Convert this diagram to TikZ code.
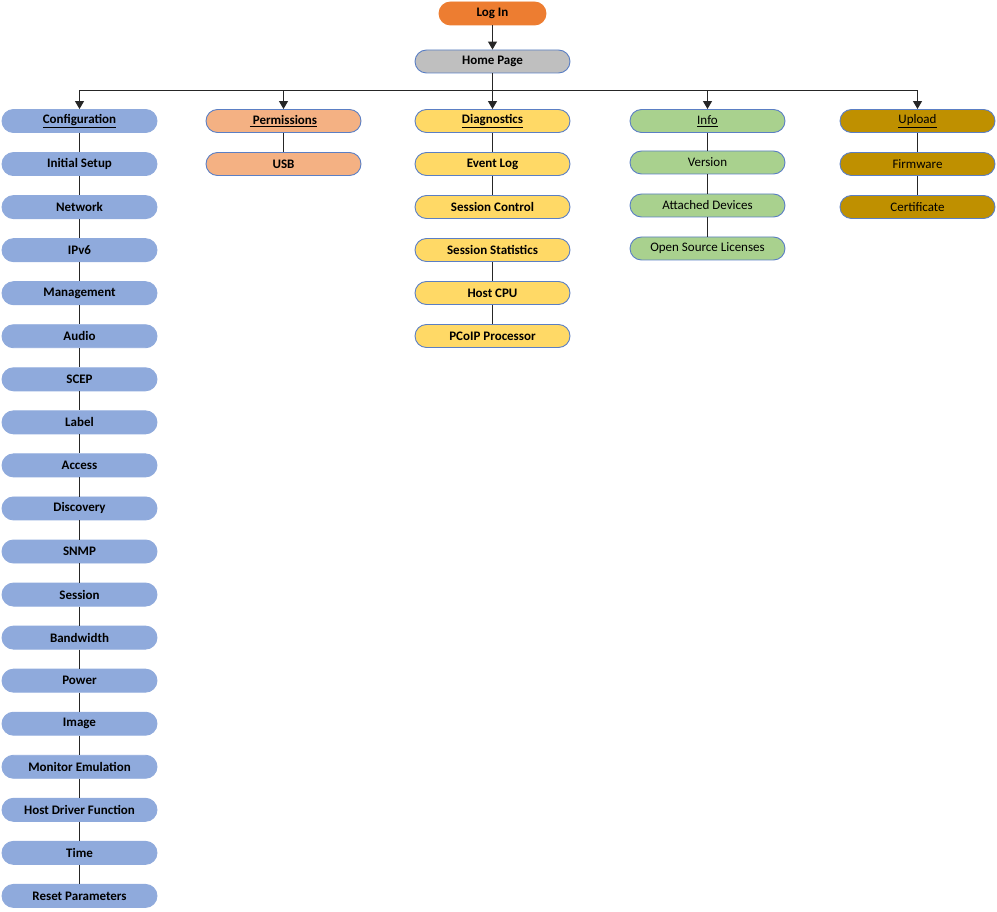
\documentclass[tikz,border=0pt]{standalone}
\usepackage{fontspec}
\setmainfont{Carlito}
\usetikzlibrary{arrows.meta}
\definecolor{cLog}{HTML}{ED7D31}
\definecolor{cHome}{HTML}{BFBFBF}
\definecolor{cConf}{HTML}{8FAADC}
\definecolor{cPerm}{HTML}{F4B183}
\definecolor{cDiag}{HTML}{FFD966}
\definecolor{cInfo}{HTML}{A9D18E}
\definecolor{cUp}{HTML}{BF9000}
\definecolor{cBord}{HTML}{5B7FC4}
\definecolor{cLine}{HTML}{262626}
\tikzset{
  box/.style={rounded corners=11.5pt, minimum width=155pt, minimum height=23pt,
    inner sep=0pt, draw=cBord, line width=0.9pt, font=\fontsize{13}{15}\selectfont\bfseries, text=black},
  boxn/.style={box, font=\fontsize{13}{15}\selectfont},
  link/.style={draw=cLine, line width=1pt},
  arr/.style={link, -{Triangle[length=8pt,width=9pt]}},
}
\begin{document}
\begin{tikzpicture}[x=1pt,y=-1pt]
\useasboundingbox (0,0) rectangle (997,912);
% top
\node[box, fill=cLog, draw=cLog, minimum width=107pt] (login) at (492.5,13.5) {Log In};
\node[box, fill=cHome] (home) at (492.5,61.5) {Home Page};
% column heads
\node[box, fill=cConf, draw=cConf] (conf) at (79.5,121) {\underline{Configuration}};
\node[box, fill=cPerm] (perm) at (283.5,121) {\underline{\ Permissions}};
\node[box, fill=cDiag] (diag) at (492.5,121) {\underline{Diagnostics}};
\node[boxn, fill=cInfo] (info) at (707.5,121) {\underline{Info}};
\node[boxn, fill=cUp] (up) at (917.5,121) {\underline{Upload}};
% configuration column
\foreach \t [count=\i] in {Initial Setup,Network,IPv6,Management,Audio,SCEP,Label,Access,Discovery,SNMP,Session,Bandwidth,Power,Image,Monitor Emulation,Host Driver Function,Time,Reset Parameters}{
  \node[box, fill=cConf, draw=cConf] (c\i) at (79.5,121+43.05*\i) {\t};
}
\draw[link] (conf) -- (c1);
\foreach \i [evaluate=\i as \j using int(\i+1)] in {1,...,17}{
  \draw[link] (c\i) -- (c\j);
}
% permissions
\node[box, fill=cPerm] (usb) at (283.5,164) {USB};
\draw[link] (perm) -- (usb);
% diagnostics
\node[box, fill=cDiag] (d1) at (492.5,164) {Event Log};
\node[box, fill=cDiag] (d2) at (492.5,207) {Session Control};
\node[box, fill=cDiag] (d3) at (492.5,250) {Session Statistics};
\node[box, fill=cDiag] (d4) at (492.5,293) {Host CPU};
\node[box, fill=cDiag] (d5) at (492.5,336) {PCoIP Processor};
\draw[link] (diag) -- (d1);
\draw[link] (d1) -- (d2);
\draw[link] (d3) -- (d4);
\draw[link] (d4) -- (d5);
% info
\node[boxn, fill=cInfo] (i1) at (707.5,162.5) {Version};
\node[boxn, fill=cInfo] (i2) at (707.5,205.5) {Attached Devices};
\node[boxn, fill=cInfo] (i3) at (707.5,248.5) {Open Source Licenses};
\draw[link] (info) -- (i1);
\draw[link] (i1) -- (i2);
\draw[link] (i2) -- (i3);
% upload
\node[boxn, fill=cUp] (u1) at (917.5,164) {Firmware};
\node[boxn, fill=cUp] (u2) at (917.5,207) {Certificate};
\draw[link] (up) -- (u1);
\draw[link] (u1) -- (u2);
% arrows
\coordinate (bus) at (492.5,91);
\draw[arr] (login) -- (home);
\draw[arr] (home) -- (diag);
\draw[arr] (bus) -| (conf);
\draw[arr] (bus) -| (perm);
\draw[arr] (bus) -| (info);
\draw[arr] (bus) -| (up);
\end{tikzpicture}
\end{document}
